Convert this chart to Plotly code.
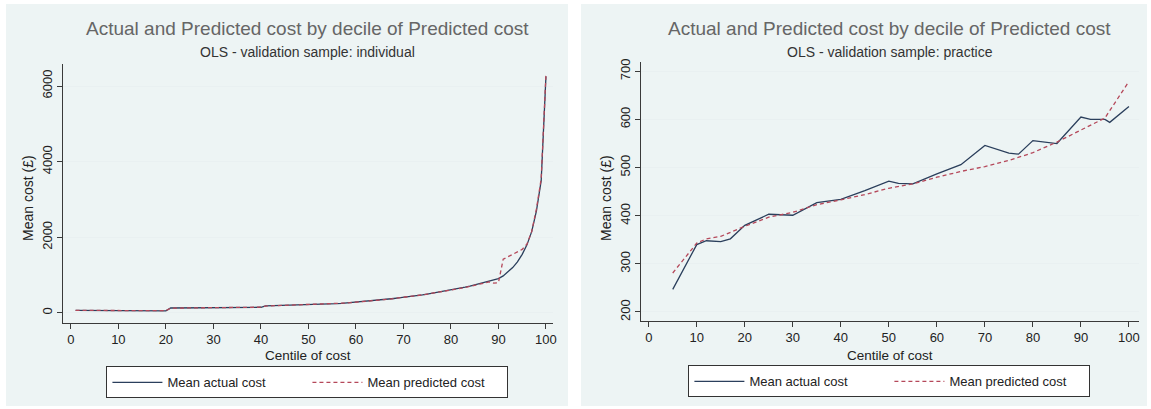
import plotly.graph_objects as go

# ---------------- data ----------------
centiles = [
    1, 2, 3, 4, 5, 6, 7, 8, 9, 10,
    11, 12, 13, 14, 15, 16, 17, 18, 19, 20,
    21, 22, 23, 24, 25, 26, 27, 28, 29, 30,
    31, 32, 33, 34, 35, 36, 37, 38, 39, 40,
    41, 42, 43, 44, 45, 46, 47, 48, 49, 50,
    51, 52, 53, 54, 55, 56, 57, 58, 59, 60,
    61, 62, 63, 64, 65, 66, 67, 68, 69, 70,
    71, 72, 73, 74, 75, 76, 77, 78, 79, 80,
    81, 82, 83, 84, 85, 86, 87, 88, 89, 90,
    91, 92, 93, 94, 95, 96, 97, 98, 99, 100,
]

ind_actual = [
    70, 70, 70, 70, 62, 60, 60, 60, 60, 60,
    60, 60, 60, 60, 60, 60, 60, 58, 58, 55,
    130, 132, 132, 133, 133, 134, 135, 135, 136, 138,
    140, 140, 142, 142, 143, 144, 145, 146, 147, 150,
    185, 188, 190, 192, 195, 198, 200, 203, 206, 210,
    215, 220, 226, 232, 238, 244, 252, 262, 275, 290,
    300, 310, 320, 330, 342, 355, 368, 382, 396, 410,
    420, 440, 460, 480, 500, 520, 540, 560, 580, 600,
    625, 650, 680, 710, 745, 780, 820, 850, 880, 910,
    980, 1080, 1200, 1350, 1550, 1800, 2150, 2700, 3500, 6250,
]

ind_pred = [
    68, 68, 68, 68, 64, 62, 62, 62, 62, 62,
    62, 62, 62, 62, 60, 60, 60, 60, 60, 60,
    125, 130, 132, 134, 134, 135, 136, 137, 138, 139,
    141, 142, 143, 144, 145, 146, 147, 148, 150, 152,
    183, 187, 190, 193, 196, 199, 202, 205, 208, 212,
    217, 222, 228, 234, 240, 246, 254, 263, 274, 288,
    298, 308, 318, 330, 342, 354, 366, 380, 395, 408,
    418, 438, 458, 478, 498, 518, 538, 558, 578, 598,
    620, 645, 672, 702, 735, 765, 800, 820, 790, 800,
    1420, 1480, 1540, 1600, 1680, 1820, 2150, 2750, 3550, 6300,
]

prac_actual_x = [5, 10, 12, 15, 17, 20, 25, 30, 35, 40, 45, 50, 52, 55, 60,
                 65, 70, 75, 77, 80, 85, 90, 92, 95, 96, 100]
prac_actual = [247, 340, 348, 346, 352, 380, 403, 401, 427, 434, 452, 472, 467, 466, 487,
               506, 546, 530, 528, 556, 550, 605, 600, 600, 594, 627]

prac_pred_x = [5, 10, 12, 15, 20, 25, 30, 35, 40, 45, 50, 55, 60,
               65, 70, 75, 80, 85, 90, 95, 100]
prac_pred = [281, 343, 352, 357, 378, 397, 407, 423, 433, 444, 457, 466, 480,
             492, 502, 515, 531, 553, 578, 603, 679]

x_ticks = [0, 10, 20, 30, 40, 50, 60, 70, 80, 90, 100]
ind_y_ticks = [0, 2000, 4000, 6000]
prac_y_ticks = [200, 300, 400, 500, 600, 700]

title_text = "Actual and Predicted cost by decile of Predicted cost"
sub_left = "OLS - validation sample: individual"
sub_right = "OLS - validation sample: practice"
x_title = "Centile of cost"
y_title = "Mean cost (£)"
name_actual = "Mean actual cost"
name_pred = "Mean predicted cost"

# ---------------- style ----------------
W, H = 1151, 409
FONT = "Liberation Sans, Arial, sans-serif"
C_ACT = "#2b3f5c"
C_PRED = "#b5485a"
BG = "#edf4f4"
AX = "#3a3a3a"


def px(x):
    return x / W


def py(y):
    return 1 - y / H


fig = go.Figure()

fig.add_trace(go.Scatter(x=centiles, y=ind_actual, mode="lines", name=name_actual,
                         line=dict(color=C_ACT, width=1.3), xaxis="x", yaxis="y",
                         legend="legend"))
fig.add_trace(go.Scatter(x=centiles, y=ind_pred, mode="lines", name=name_pred,
                         line=dict(color=C_PRED, width=1.3, dash="4px,3px"),
                         xaxis="x", yaxis="y", legend="legend"))
fig.add_trace(go.Scatter(x=prac_actual_x, y=prac_actual, mode="lines", name=name_actual,
                         line=dict(color=C_ACT, width=1.3), xaxis="x2", yaxis="y2",
                         legend="legend2"))
fig.add_trace(go.Scatter(x=prac_pred_x, y=prac_pred, mode="lines", name=name_pred,
                         line=dict(color=C_PRED, width=1.3, dash="4px,3px"),
                         xaxis="x2", yaxis="y2", legend="legend2"))

axis_common = dict(showline=True, linecolor=AX, linewidth=1, ticks="outside",
                   ticklen=5, tickcolor=AX, zeroline=False,
                   tickfont=dict(family=FONT, size=13, color="#222"))

legend_common = dict(orientation="h", xanchor="center", yanchor="top",
                     bgcolor="white", bordercolor="#333", borderwidth=1,
                     font=dict(family=FONT, size=13, color="#222"),
                     itemwidth=50, entrywidth=135, tracegroupgap=0)

fig.update_layout(
    width=W, height=H,
    margin=dict(l=0, r=0, t=0, b=0),
    paper_bgcolor="white",
    plot_bgcolor="white",
    font=dict(family=FONT, color="#222"),
    xaxis=dict(domain=[px(63), px(555)], anchor="y", range=[-1.7, 101.5],
               tickvals=x_ticks, showgrid=False, **axis_common),
    yaxis=dict(domain=[py(322), py(61)], anchor="x", range=[-262, 6571],
               tickvals=ind_y_ticks, tickangle=-90, showgrid=True,
               gridcolor="#e9f0f1", gridwidth=1, **axis_common),
    xaxis2=dict(domain=[px(643), px(1143)], anchor="y2", range=[-1.66, 102.1],
                tickvals=x_ticks, showgrid=False, **axis_common),
    yaxis2=dict(domain=[py(320), py(59)], anchor="x2", range=[181.5, 718.5],
                tickvals=prac_y_ticks, tickangle=-90, showgrid=True,
                gridcolor="#e9f0f1", gridwidth=1, **axis_common),
    legend=dict(x=px(308.5), y=py(366), **legend_common),
    legend2=dict(x=px(892.5), y=py(365), **legend_common),
    shapes=[
        dict(type="rect", xref="paper", yref="paper", x0=px(6), x1=px(570),
             y0=py(406), y1=1, fillcolor=BG, line=dict(width=0), layer="below"),
        dict(type="rect", xref="paper", yref="paper", x0=px(583), x1=1,
             y0=py(406), y1=1, fillcolor=BG, line=dict(width=0), layer="below"),
    ],
)

annotations = []
for cx in (309, 893):
    sub = sub_left if cx < 600 else sub_right
    annotations.append(dict(text=title_text, x=px(cx), y=py(25), xref="paper", yref="paper",
                            xanchor="center", yanchor="middle", showarrow=False,
                            font=dict(family=FONT, size=19, color="#666")))
    annotations.append(dict(text=sub, x=px(cx), y=py(48), xref="paper", yref="paper",
                            xanchor="center", yanchor="middle", showarrow=False,
                            font=dict(family=FONT, size=14, color="#333")))
    annotations.append(dict(text=x_title, x=px(cx), y=py(355), xref="paper", yref="paper",
                            xanchor="center", yanchor="middle", showarrow=False,
                            font=dict(family=FONT, size=13.5, color="#222")))
annotations.append(dict(text=y_title, x=px(28), y=py(196), xref="paper", yref="paper",
                        xanchor="center", yanchor="middle", showarrow=False, textangle=-90,
                        font=dict(family=FONT, size=14, color="#222")))
annotations.append(dict(text=y_title, x=px(608), y=py(196), xref="paper", yref="paper",
                        xanchor="center", yanchor="middle", showarrow=False, textangle=-90,
                        font=dict(family=FONT, size=14, color="#222")))
fig.update_layout(annotations=annotations)

fig.write_html("out.html")
